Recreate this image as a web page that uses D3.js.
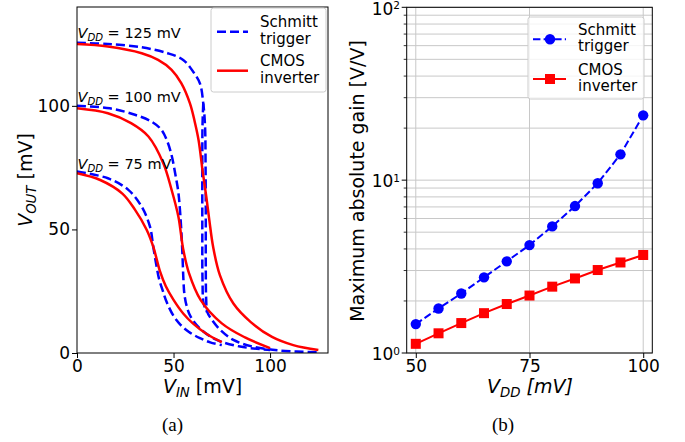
<!DOCTYPE html>
<html>
<head>
<meta charset="utf-8">
<script src="https://cdn.jsdelivr.net/npm/d3@7"></script>
<style>
	body { margin: 0; background: #fff; }
	svg { font-family: "DejaVu Sans", sans-serif; }
</style>
</head>
<body>
<script>
//data
//(a) transfer curves, V_IN and V_OUT in mV
var vinSchmitt125 = [0, 16, 33.5, 47, 55, 60, 63.7, 65.4, 66.3, 66.6, 66.7, 66.7, 66.9, 67.5, 69.8, 74, 81, 91, 105, 125];
var voutSchmitt125 = [125.5, 125, 123.7, 121.3, 118.6, 114, 109, 101, 92, 75, 55, 35, 22, 16.5, 13.5, 9.5, 5.3, 2.6, 1.0, 0.3];
var vinSchmitt125Back = [65.4, 65.0, 64.9, 64.9, 65.0, 65.6, 67.3];
var voutSchmitt125Back = [101, 92, 75, 50, 30, 20, 16.6];
var vinSchmitt100 = [0, 17, 30, 38.7, 43.5, 46.5, 49, 51, 52.5, 53.5, 54.2, 54.7, 55.1, 55.6, 56.8, 59, 64.5, 72.4, 84.5, 100];
var voutSchmitt100 = [100, 99, 96.4, 93.6, 90.5, 86.2, 80, 72, 65, 56, 47, 38, 30, 24, 19, 14.5, 9.3, 5.3, 2.6, 1.2];
var vinSchmitt75 = [0, 16, 26.6, 33.5, 37.8, 39.5, 41, 42.5, 44.5, 46.5, 50, 53.5, 58, 63.7, 69, 75];
var voutSchmitt75 = [73.4, 70.7, 66, 59.2, 51.1, 43, 36, 30, 25, 20.5, 15, 11.5, 8.5, 6, 4.3, 3.2];
var vinCmos125 = [0, 16, 33.5, 42, 49, 54, 58.5, 61, 63, 65, 67, 68.5, 70.5, 74, 81, 90, 101, 112, 125];
var voutCmos125 = [125, 124, 121.3, 118.6, 114.6, 109.2, 101, 93.5, 86, 74, 63, 54, 43, 31.5, 20, 12.5, 6.5, 3.2, 1.2];
var vinCmos100 = [0, 16, 28, 37, 44.7, 49, 52.5, 55, 58, 64, 75, 87, 100];
var voutCmos100 = [99, 97, 93, 87.6, 76.8, 66, 55.2, 42, 32.3, 21.5, 12, 6.3, 2];
var vinCmos75 = [0, 12, 23.5, 30, 36, 39.5, 43, 46, 50, 55, 60, 67, 75];
var voutCmos75 = [72.7, 70, 64.5, 58, 50, 43, 33, 27, 21.5, 16, 12, 7.8, 4.4];
var vddLabels = [125, 100, 75];
var vddLabelY = [127.5, 101.5, 74.5];

//(b) maximum absolute gain
var vdd = [50, 55, 60, 65, 70, 75, 80, 85, 90, 95, 100];
var gainSchmitt = [1.47, 1.81, 2.21, 2.74, 3.39, 4.21, 5.40, 7.08, 9.6, 14.1, 23.7];
var gainCmos = [1.13, 1.30, 1.49, 1.70, 1.92, 2.15, 2.42, 2.70, 3.02, 3.34, 3.69];

var ticksA_x = [0, 50, 100], ticksA_y = [0, 50, 100];
var ticksB_x = [50, 75, 100], ticksB_y = [1, 10, 100];
var legendNames = [["Schmitt", "trigger"], ["CMOS", "inverter"]];

var BLUE = "#0000ff", RED = "#ff0000";
var TICK_FS = 17, LABEL_FS = 19, LEG_FS = 15;

var svg = d3.select("body").append("svg").attr("width", 685).attr("height", 442);

//write mixed text (italic, subscripts, superscripts) into a text element
function rich(t, parts, fs) {
	var shift = 0;
	parts.forEach(function (p) {
		var ts = t.append("tspan").text(p.t);
		var target = p.sub ? fs * 0.22 : (p.sup ? -fs * 0.33 : 0);
		ts.attr("dy", target - shift);
		shift = target;
		if (p.it) ts.style("font-style", "italic");
		if (p.sub) ts.attr("font-size", fs * 0.7);
		if (p.sup) ts.attr("font-size", fs * 0.62);
	});
}

function styleAxis(g, fs) {
	g.selectAll("text").attr("font-size", fs).attr("fill", "#000").attr("font-family", "DejaVu Sans, sans-serif");
	g.selectAll("line").attr("stroke", "#000").attr("stroke-width", 1);
	g.select(".domain").remove();
}

// ---------------- panel (a) ----------------
var xA = d3.scaleLinear().domain([0, 130]).range([77, 328]);
var yA = d3.scaleLinear().domain([0, 140]).range([353, 7]);

var lineA = d3.line()
	.x(function (d) { return xA(d[0]); })
	.y(function (d) { return yA(d[1]); })
	.curve(d3.curveCatmullRom.alpha(0.5));

function pairs(a, b) { return a.map(function (v, i) { return [v, b[i]]; }); }

var schmittCurves = [
	pairs(vinSchmitt125, voutSchmitt125),
	pairs(vinSchmitt125Back, voutSchmitt125Back),
	pairs(vinSchmitt100, voutSchmitt100),
	pairs(vinSchmitt75, voutSchmitt75)
];
var cmosCurves = [
	pairs(vinCmos125, voutCmos125),
	pairs(vinCmos100, voutCmos100),
	pairs(vinCmos75, voutCmos75)
];

var panelA = svg.append("g");
panelA.append("defs").append("clipPath").attr("id", "clipA")
	.append("rect").attr("x", 77).attr("y", 7).attr("width", 251).attr("height", 346);

var plotA = panelA.append("g").attr("clip-path", "url(#clipA)");
plotA.selectAll(".schmitt")
	.data(schmittCurves)
	.enter()
	.append("path")
	.attr("class", "schmitt")
	.attr("d", lineA)
	.attr("fill", "none")
	.attr("stroke", BLUE)
	.attr("stroke-width", 2.5)
	.attr("stroke-dasharray", "9,4");
plotA.selectAll(".cmos")
	.data(cmosCurves)
	.enter()
	.append("path")
	.attr("class", "cmos")
	.attr("d", lineA)
	.attr("fill", "none")
	.attr("stroke", RED)
	.attr("stroke-width", 2.5);

//VDD annotations
vddLabels.forEach(function (v, i) {
	var t = panelA.append("text")
		.attr("x", xA(0) + 0.5)
		.attr("y", yA(vddLabelY[i]))
		.attr("font-size", 14.5);
	rich(t, [{ t: "V", it: true }, { t: "DD", it: true, sub: true }, { t: " = " + v + " mV" }], 14.5);
});

panelA.append("g").attr("transform", "translate(0,353)")
	.call(d3.axisBottom(xA).tickValues(ticksA_x).tickSize(5).tickPadding(2).tickSizeOuter(0))
	.call(function (g) { styleAxis(g, TICK_FS); });
panelA.append("g").attr("transform", "translate(77,0)")
	.call(d3.axisLeft(yA).tickValues(ticksA_y).tickSize(5).tickPadding(2).tickSizeOuter(0))
	.call(function (g) { styleAxis(g, TICK_FS); });

panelA.append("rect").attr("x", 77).attr("y", 7).attr("width", 251).attr("height", 346)
	.attr("fill", "none").attr("stroke", "#000").attr("stroke-width", 1);

var xlabA = panelA.append("text").attr("x", 202.5).attr("y", 393)
	.attr("text-anchor", "middle").attr("font-size", LABEL_FS);
rich(xlabA, [{ t: "V", it: true }, { t: "IN", it: true, sub: true }, { t: " [mV]" }], LABEL_FS);

var ylabA = panelA.append("text").attr("transform", "translate(32,180) rotate(-90)")
	.attr("text-anchor", "middle").attr("font-size", LABEL_FS);
rich(ylabA, [{ t: "V", it: true }, { t: "OUT", it: true, sub: true }, { t: " [mV]" }], LABEL_FS);

//legend (a)
var legA = panelA.append("g");
legA.append("rect").attr("x", 211).attr("y", 8).attr("width", 115).attr("height", 84).attr("rx", 2.5)
	.attr("fill", "#fff").attr("fill-opacity", 0.8).attr("stroke", "#cccccc").attr("stroke-width", 1);
[31.7, 70.7].forEach(function (ly, i) {
	legA.append("line").attr("x1", 217).attr("x2", 248).attr("y1", ly).attr("y2", ly)
		.attr("stroke", i ? RED : BLUE).attr("stroke-width", 2.5)
		.attr("stroke-dasharray", i ? null : "9,4");
	legendNames[i].forEach(function (s, j) {
		legA.append("text").attr("x", 260).attr("y", ly - 4.5 + j * 16.3).attr("font-size", LEG_FS).text(s);
	});
});

// ---------------- panel (b) ----------------
var xB = d3.scaleLinear().domain([48, 102]).range([406.7, 652.3]);
var yB = d3.scaleLog().domain([1, 100]).range([353, 7.3]);

var panelB = svg.append("g");

//grid, major and minor
var minorY = [];
[1, 10].forEach(function (dec) {
	for (var k = 2; k <= 9; k++) minorY.push(k * dec);
});
panelB.selectAll(".gy")
	.data(minorY.concat(ticksB_y))
	.enter()
	.append("line")
	.attr("class", "gy")
	.attr("x1", 406.7).attr("x2", 652.3)
	.attr("y1", function (d) { return yB(d); })
	.attr("y2", function (d) { return yB(d); })
	.attr("stroke", "#c8c8c8").attr("stroke-width", 1);
panelB.selectAll(".gx")
	.data(ticksB_x)
	.enter()
	.append("line")
	.attr("class", "gx")
	.attr("x1", function (d) { return xB(d); })
	.attr("x2", function (d) { return xB(d); })
	.attr("y1", 7.3).attr("y2", 353)
	.attr("stroke", "#c8c8c8").attr("stroke-width", 1);

var lineS = d3.line()
	.x(function (d, i) { return xB(vdd[i]); })
	.y(function (d) { return yB(d); });

panelB.append("path").datum(gainSchmitt)
	.attr("d", lineS).attr("fill", "none")
	.attr("stroke", BLUE).attr("stroke-width", 2).attr("stroke-dasharray", "7.4,3.2");
panelB.append("path").datum(gainCmos)
	.attr("d", lineS).attr("fill", "none")
	.attr("stroke", RED).attr("stroke-width", 2);

panelB.selectAll(".dotS")
	.data(gainSchmitt)
	.enter()
	.append("circle")
	.attr("class", "dotS")
	.attr("cx", function (d, i) { return xB(vdd[i]); })
	.attr("cy", function (d) { return yB(d); })
	.attr("r", 5.2)
	.attr("fill", BLUE);
panelB.selectAll(".sqC")
	.data(gainCmos)
	.enter()
	.append("rect")
	.attr("class", "sqC")
	.attr("x", function (d, i) { return xB(vdd[i]) - 5; })
	.attr("y", function (d) { return yB(d) - 5; })
	.attr("width", 10).attr("height", 10)
	.attr("fill", RED);

panelB.append("g").attr("transform", "translate(0,353)")
	.call(d3.axisBottom(xB).tickValues(ticksB_x).tickSize(5).tickPadding(2).tickSizeOuter(0))
	.call(function (g) { styleAxis(g, TICK_FS); });

//log axis: minor ticks then major ticks with 10^n labels
panelB.selectAll(".mt")
	.data(minorY)
	.enter()
	.append("line")
	.attr("class", "mt")
	.attr("x1", 403.7).attr("x2", 406.7)
	.attr("y1", function (d) { return yB(d); })
	.attr("y2", function (d) { return yB(d); })
	.attr("stroke", "#000").attr("stroke-width", 0.8);
ticksB_y.forEach(function (v) {
	var y = yB(v);
	panelB.append("line").attr("x1", 401.7).attr("x2", 406.7).attr("y1", y).attr("y2", y)
		.attr("stroke", "#000").attr("stroke-width", 1);
	var t = panelB.append("text").attr("x", 400).attr("y", y + 7.3).attr("text-anchor", "end").attr("font-size", TICK_FS);
	rich(t, [{ t: "10" }, { t: String(Math.round(Math.log10(v))), sup: true }], TICK_FS);
});

panelB.append("rect").attr("x", 406.7).attr("y", 7.3).attr("width", 245.6).attr("height", 345.7)
	.attr("fill", "none").attr("stroke", "#000").attr("stroke-width", 1);

var xlabB = panelB.append("text").attr("x", 530).attr("y", 393)
	.attr("text-anchor", "middle").attr("font-size", LABEL_FS);
rich(xlabB, [{ t: "V", it: true }, { t: "DD", it: true, sub: true }, { t: " [mV]", it: true }], LABEL_FS);

panelB.append("text").attr("transform", "translate(364,181) rotate(-90)")
	.attr("text-anchor", "middle").attr("font-size", LABEL_FS)
	.text("Maximum absolute gain [V/V]");

//legend (b)
var legB = panelB.append("g");
legB.append("rect").attr("x", 528).attr("y", 17).attr("width", 116).attr("height", 82).attr("rx", 2.5)
	.attr("fill", "#fff").attr("fill-opacity", 0.8).attr("stroke", "#cccccc").attr("stroke-width", 1);
[39.3, 79].forEach(function (ly, i) {
	legB.append("line").attr("x1", 533).attr("x2", 566).attr("y1", ly).attr("y2", ly)
		.attr("stroke", i ? RED : BLUE).attr("stroke-width", 2)
		.attr("stroke-dasharray", i ? null : "7.4,3.2");
	if (i) {
		legB.append("rect").attr("x", 545).attr("y", ly - 5).attr("width", 10).attr("height", 10).attr("fill", RED);
	} else {
		legB.append("circle").attr("cx", 550).attr("cy", ly).attr("r", 5.2).attr("fill", BLUE);
	}
	legendNames[i].forEach(function (s, j) {
		legB.append("text").attr("x", 578).attr("y", ly - 4 + j * 15.8).attr("font-size", LEG_FS).text(s);
	});
});

//sub-figure captions
svg.append("text").attr("x", 172.5).attr("y", 431).attr("text-anchor", "middle")
	.attr("font-family", "Liberation Serif, serif").attr("font-size", 19).text("(a)");
svg.append("text").attr("x", 503).attr("y", 431).attr("text-anchor", "middle")
	.attr("font-family", "Liberation Serif, serif").attr("font-size", 19).text("(b)");
</script>
</body>
</html>
